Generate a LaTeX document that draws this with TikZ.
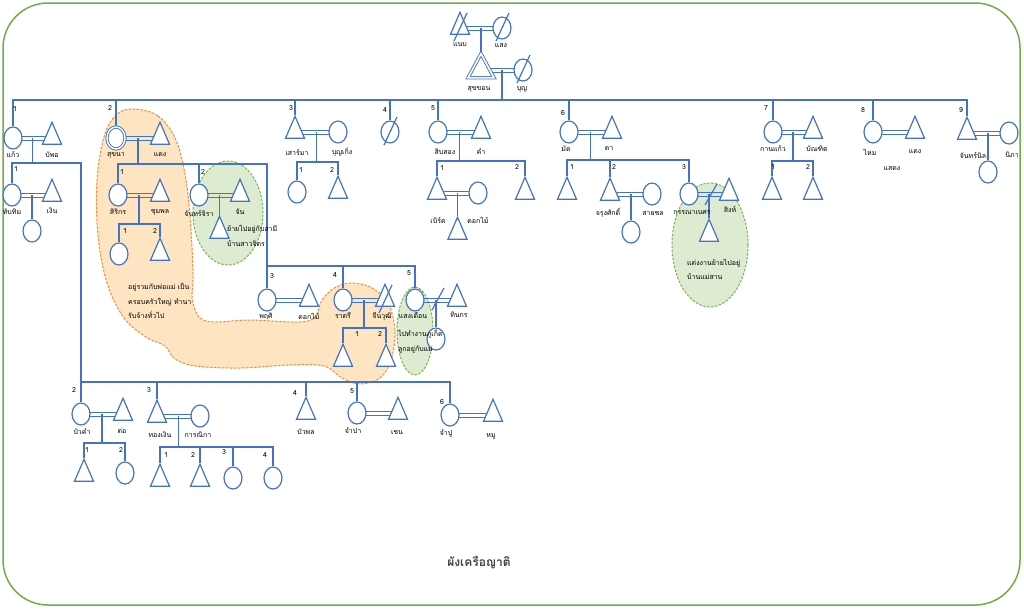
\documentclass[tikz,border=0pt]{standalone}
\usepackage{fontspec}
\newfontfamily\thai[Script=Thai]{Loma}
\usetikzlibrary{shapes.geometric}
\usetikzlibrary{calc}
\definecolor{kinblue}{RGB}{68,114,196}
\definecolor{framegreen}{RGB}{112,173,71}
\definecolor{orangeline}{RGB}{240,140,70}
\definecolor{orangefill}{RGB}{252,229,192}
\definecolor{greenline}{RGB}{120,180,80}
\definecolor{greenfill}{RGB}{221,235,209}
\definecolor{titlegray}{RGB}{64,64,64}
\pgfdeclarelayer{blobs}
\pgfdeclarelayer{lines}
\pgfsetlayers{blobs,lines,main}
\tikzset{
  kin/.style = {
    draw = kinblue,
    line width = 1.2pt
  },
  wed/.style = {
    draw = kinblue,
    line width = 1pt
  },
  person/.style = {
    kin,
    fill = white,
    inner sep = 0
  },
  % man
  male/.style = {
    person,
    isosceles triangle,
    shape border rotate = 90,
    isosceles triangle stretches,
    minimum width = 19pt,
    minimum height = 22pt
  },
  % woman
  female/.style = {
    person,
    ellipse,
    minimum width = 18pt,
    minimum height = 22pt
  },
  % informants
  ego/.style = {
    male,
    double = white,
    double distance = 1.6pt,
    line width = 0.9pt,
    minimum width = 26pt,
    minimum height = 24pt
  },
  egof/.style = {
    female,
    double = white,
    double distance = 1.4pt,
    line width = 0.9pt
  },
  nm/.style = {
    font = \thai\fontsize{7}{8}\selectfont,
    inner sep = 0
  },
  idx/.style = {
    font = \thai\fontsize{7}{8}\selectfont,
    inner sep = 0
  },
  note/.style = {
    font = \thai\fontsize{7}{14.5}\selectfont,
    align = left,
    anchor = west,
    inner sep = 0
  },
  orangeblob/.style = {
    draw = orangeline,
    fill = orangefill,
    line width = 1pt,
    dash pattern = on 2.5pt off 1.5pt
  },
  greenblob/.style = {
    draw = greenline,
    fill = greenfill,
    line width = 1pt,
    dash pattern = on 2.5pt off 1.5pt
  }
}

\begin{document}
\begin{tikzpicture}[x=1pt, y=-1pt]
  \useasboundingbox (0,0) rectangle (1024,608);
  \draw[framegreen, line width = 1.5pt, rounded corners = 45pt] (3,3) rectangle (1020,605);

  % groups
  \begin{pgfonlayer}{blobs}
    \draw[orangeblob] plot[smooth cycle, tension = 0.6] coordinates {
      (133,109) (158,116) (176,140) (186,180) (191,230) (193,275) (193,303)
      (206,321) (250,320) (298,322) (315,317) (322,300) (336,287) (354,283)
      (374,289) (389,305) (395,332) (391,360) (380,378) (360,384) (342,378)
      (324,366) (290,365) (240,368) (196,366) (175,359) (165,346) (146,337)
      (124,318) (107,283) (98,235) (97,180) (104,137) (116,115)};
    \draw[greenblob] (228,213) ellipse [x radius = 35pt, y radius = 52pt];
    \draw[greenblob] (415,331) ellipse [x radius = 18pt, y radius = 44pt];
    \draw[greenblob] (710,245) ellipse [x radius = 38pt, y radius = 62pt];
  \end{pgfonlayer}

  % first generations
  \node[male] (naep) at (460,28) {};
  \node[female] (saeng) at (502,28) {};
  \node[ego] (sukkhon) at (481,70) {};
  \node[female] (bun) at (523,70) {};

  % siblings
  \node[female] (kaew) at (13,138) {};
  \node[male] (bupo) at (52,138) {};
  \node[egof] (sukhna) at (116,138) {};
  \node[male] (daeng) at (160,138) {};
  \node[male] (saoma) at (295,132) {};
  \node[female] (bunkoeng) at (338,132) {};
  \node[female] (sib-four) at (390,132) {};
  \node[female] (sipsong) at (438,132) {};
  \node[male] (kham) at (481,132) {};
  \node[female] (mat) at (569,132) {};
  \node[male] (ta) at (612,132) {};
  \node[female] (kankaeo) at (773,132) {};
  \node[male] (bandit) at (813,132) {};
  \node[female] (mai) at (873,132) {};
  \node[male] (daeng-b) at (915,132) {};
  \node[male] (chanin) at (967,133) {};
  \node[female] (nipha) at (1009,133) {};

  % children
  \node[female] (thapthim) at (12,195) {};
  \node[male] (ngoen) at (52,195) {};
  \node[female] (thapthim-kid) at (32,231) {};
  \node[female] (sirikon) at (118,195) {};
  \node[male] (chumphon) at (160,195) {};
  \node[female] (sirikon-k1) at (119,254) {};
  \node[male] (sirikon-k2) at (160,254) {};
  \node[female] (janjira) at (199,195) {};
  \node[male] (jan) at (240,195) {};
  \node[male] (jan-kid) at (219.5,232) {};
  \node[female] (phruksi) at (267,300) {};
  \node[male] (dokmai) at (309,300) {};
  \node[female] (ratri) at (343,300) {};
  \node[male] (jinawut) at (385,300) {};
  \node[male] (ratri-k1) at (343,360) {};
  \node[male] (ratri-k2) at (386,360) {};
  \node[female] (saengduean) at (415,300) {};
  \node[male] (thinnakon) at (457,300) {};
  \node[female] (saeng-kid) at (436,339) {};
  \node[female] (saoma-k1) at (297,192) {};
  \node[male] (saoma-k2) at (338,192) {};
  \node[male] (berd) at (437,193) {};
  \node[female] (dokmai-b) at (478,193) {};
  \node[male] (berd-kid) at (457.5,233) {};
  \node[male] (sipsong-k2) at (525,193) {};
  \node[male] (mat-k1) at (567,193) {};
  \node[male] (jarung) at (610,194) {};
  \node[female] (saichon) at (652,194) {};
  \node[female] (jarung-kid) at (631,232) {};
  \node[female] (kanna) at (689,194) {};
  \node[male] (sing) at (729,194) {};
  \node[male] (kanna-kid) at (709,235) {};
  \node[male] (kankaeo-k1) at (772,193) {};
  \node[male] (kankaeo-k2) at (813,193) {};
  \node[female] (chanin-kid) at (988,172) {};

  % lower branch
  \node[female] (buakham) at (81,414) {};
  \node[male] (tor) at (123,414) {};
  \node[male] (buakham-k1) at (84,475) {};
  \node[female] (buakham-k2) at (125,473) {};
  \node[male] (thongngoen) at (157,416) {};
  \node[female] (kannika) at (200,416) {};
  \node[male] (thong-k1) at (160,480) {};
  \node[male] (thong-k2) at (200,480) {};
  \node[female] (thong-k3) at (233,478) {};
  \node[female] (thong-k4) at (273,478) {};
  \node[male] (buaphon) at (306,413) {};
  \node[female] (champa) at (357,413) {};
  \node[male] (chen) at (398,413) {};
  \node[female] (champu) at (450,415) {};
  \node[male] (mu) at (493,415) {};

  \coordinate (sib-bar) at ($(sukkhon)!.5!(bun)+(0,30)$);
  \coordinate (kaew-bar) at ($(kaew)!.5!(bupo)+(0,25)$);
  \coordinate (low-bar) at (81,382);
  \coordinate (sukhna-bar) at ($(sukhna)!.5!(daeng)+(0,26)$);
  \coordinate (sukhna-bar2) at (267,266);
  \coordinate (sirikon-bar) at ($(sirikon)!.5!(chumphon)+(0,29)$);
  \coordinate (ratri-bar) at ($(ratri)!.5!(jinawut)+(0,28)$);
  \coordinate (saoma-bar) at ($(saoma)!.5!(bunkoeng)+(0,30)$);
  \coordinate (sipsong-bar) at ($(sipsong)!.5!(kham)+(0,29)$);
  \coordinate (mat-bar) at ($(mat)!.5!(ta)+(0,28)$);
  \coordinate (kankaeo-bar) at ($(kankaeo)!.5!(bandit)+(0,29)$);
  \coordinate (buakham-bar) at ($(buakham)!.5!(tor)+(0,29)$);
  \coordinate (thong-bar) at ($(thongngoen)!.5!(kannika)+(0,31)$);

  \begin{pgfonlayer}{lines}
    \foreach \a/\b in {naep/saeng, sukkhon/bun, kaew/bupo, thapthim/ngoen,
        sukhna/daeng, sirikon/chumphon, janjira/jan, phruksi/dokmai,
        ratri/jinawut, saengduean/thinnakon, saoma/bunkoeng, sipsong/kham,
        berd/dokmai-b, mat/ta, jarung/saichon, kanna/sing, kankaeo/bandit,
        mai/daeng-b, chanin/nipha, buakham/tor, thongngoen/kannika,
        champa/chen, champu/mu}
      \draw[wed] ([yshift=2pt]\a.center) -- ([yshift=2pt]\b.center)
                 ([yshift=-2pt]\a.center) -- ([yshift=-2pt]\b.center);

    \draw[kin] ($(naep)!.5!(saeng)$) -- (sukkhon);
    \draw[kin] ($(sukkhon)!.5!(bun)$) -- (sib-bar);
    \foreach \c in {kaew, sukhna, saoma, sib-four, sipsong, mat, kankaeo, mai, chanin}
      \draw[kin] (sib-bar) -| (\c);

    \draw[kin] ($(kaew)!.5!(bupo)$) -- (kaew-bar) -| (thapthim);
    \draw[kin] (kaew-bar) -| (buakham);
    \draw[kin] ($(thapthim)!.5!(ngoen)$) -- (thapthim-kid);
    \foreach \c in {thongngoen, buaphon, champa, champu}
      \draw[kin] (low-bar) -| (\c);

    \draw[kin] ($(sukhna)!.5!(daeng)$) -- (sukhna-bar) -| (sirikon);
    \draw[kin] (sukhna-bar) -| (janjira);
    \draw[kin] (sukhna-bar) -| (phruksi);
    \draw[kin] (sukhna-bar2) -| (ratri);
    \draw[kin] (sukhna-bar2) -| (saengduean);
    \draw[kin] ($(sirikon)!.5!(chumphon)$) -- (sirikon-bar) -| (sirikon-k1);
    \draw[kin] (sirikon-bar) -| (sirikon-k2);
    \draw[kin] ($(janjira)!.5!(jan)$) -- (jan-kid);
    \draw[kin] ($(ratri)!.5!(jinawut)$) -- (ratri-bar) -| (ratri-k1);
    \draw[kin] (ratri-bar) -| (ratri-k2);
    \draw[kin] ($(saengduean)!.5!(thinnakon)$) -- (saeng-kid);

    \draw[kin] ($(saoma)!.5!(bunkoeng)$) -- (saoma-bar) -| (saoma-k1);
    \draw[kin] (saoma-bar) -| (saoma-k2);
    \draw[kin] ($(sipsong)!.5!(kham)$) -- (sipsong-bar) -| (berd);
    \draw[kin] (sipsong-bar) -| (sipsong-k2);
    \draw[kin] ($(berd)!.5!(dokmai-b)$) -- (berd-kid);
    \draw[kin] ($(mat)!.5!(ta)$) -- (mat-bar) -| (mat-k1);
    \draw[kin] (mat-bar) -| (jarung);
    \draw[kin] (mat-bar) -| (kanna);
    \draw[kin] ($(jarung)!.5!(saichon)$) -- (jarung-kid);
    \draw[kin] ($(kanna)!.5!(sing)$) -- (kanna-kid);
    \draw[kin] ($(kankaeo)!.5!(bandit)$) -- (kankaeo-bar) -| (kankaeo-k1);
    \draw[kin] (kankaeo-bar) -| (kankaeo-k2);
    \draw[kin] ($(chanin)!.5!(nipha)$) -- (chanin-kid);

    \draw[kin] ($(buakham)!.5!(tor)$) -- (buakham-bar) -| (buakham-k1);
    \draw[kin] (buakham-bar) -| (buakham-k2);
    \draw[kin] ($(thongngoen)!.5!(kannika)$) -- (thong-bar) -| (thong-k1);
    \foreach \c in {thong-k2, thong-k3, thong-k4}
      \draw[kin] (thong-bar) -| (\c);
  \end{pgfonlayer}

  % deceased
  \foreach \p in {naep, saeng, bun, sib-four, jinawut}
    \draw[kin] ([shift={(-6,13)}]\p.center) -- ([shift={(7,-15)}]\p.center);
  % divorced
  \draw[kin] ($(saengduean)!.5!(thinnakon)+(-4,10)$) -- ($(saengduean)!.5!(thinnakon)+(8,-12)$);
  \draw[kin] ($(kanna)!.5!(sing)+(-4,11)$) -- ($(kanna)!.5!(sing)+(8,-10)$);

  % names
  \foreach \p/\t/\x/\y in {naep/แนบ/460/45, saeng/แสง/501/45, sukkhon/สุขขอน/479/89,
      bun/บุญ/522/89, kaew/แก้ว/13/155, bupo/บัพอ/52/155, thapthim/ทับทิม/12/212,
      ngoen/เงิน/52/211, sukhna/สุขนา/116/155, daeng/แดง/160/155,
      sirikon/สิริกร/118/212, chumphon/ชุมพล/160/212, janjira/จันทร์จิรา/199/213,
      jan/จัน/240/212, saoma/เสาร์มา/297/152, bunkoeng/บุญเกิ่ง/342/152,
      sipsong/สิบสอง/445/152, kham/คำ/481/152, berd/เบิร์ด/438/220,
      dokmai-b/ดอกไม้/478/220, mat/มัด/566/149, ta/ตา/609/149,
      jarung/จรุงศักดิ์/608/213, saichon/สายชล/653/213, kanna/กรรณาเบศร/692/212,
      sing/สิงห์/730/209, kankaeo/กานแก้ว/773/149, bandit/บัณฑิต/817/149,
      mai/ไหม/870/152, daeng-b/แดง/915/152, mai-b/แสดง/892/168,
      chanin/จันทร์นิล/973/155, nipha/นิภา/1012/155, phruksi/พฤศิ/266/316,
      dokmai/ดอกไม้/309/316, ratri/ราตรี/343/316, jinawut/จีนวุฒิ/382/316,
      saengduean/แสงเดือน/413/316, thinnakon/ทินกร/459/315, buakham/บัวคำ/82/432,
      tor/ต่อ/122/431, thongngoen/ทองเงิน/160/435, kannika/การณิกา/198/435,
      buaphon/บัวพล/306/432, champa/จำปา/353/431, chen/เชน/397/432,
      champu/จำปู/446/434, mu/หมู/491/436}
    \node[nm] (\p-name) at (\x,\y) {\t};

  % birth order
  \foreach \t/\x/\y [count=\i] in {1/15/109, 2/110/108, 3/291/108, 4/385/110,
      5/433/108, 6/563/113, 7/766/108, 8/863/110, 9/961/110, 1/16/169,
      1/122/172, 2/203/172, 3/272/276, 4/335/275, 5/409/273, 1/125/231,
      2/155/231, 1/301/170, 2/332/170, 1/442/168, 2/517/167, 1/572/167,
      2/614/167, 3/684/167, 1/773/167, 2/808/167, 1/357/334, 2/380/334,
      2/74/390, 3/149/390, 4/295/393, 5/352/391, 6/442/402, 1/87/450,
      2/121/450, 1/166/455, 2/193/455, 3/224/452, 4/265/455}
    \node[idx] (order-\i) at (\x,\y) {\t};

  % notes
  \node[note] (note-jan) at (227,236) {ย้ายไปอยู่กับสามี\\บ้านสาวจิตร};
  \node[note] (note-sukhna) at (128,301) {อยู่รวมกับพ่อแม่ เป็น\\ครอบครัวใหญ่ ทำนา\\รับจ้างทั่วไป};
  \node[note] (note-saeng) at (398,341.5) {ไปทำงานภูเก็ต\\ลูกอยู่กับแม่};
  \node[note] (note-kanna) at (687,269.5) {แต่งงานย้ายไปอยู่\\บ้านแม่สาน};

  \node[font = \thai\bfseries\fontsize{12}{14}\selectfont, text = titlegray] (title) at (479,563) {ผังเครือญาติ};
\end{tikzpicture}
\end{document}
